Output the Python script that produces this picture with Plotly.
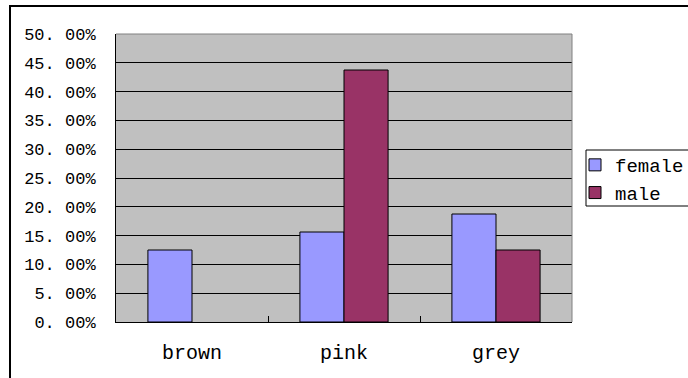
import plotly.graph_objects as go

# Hair colour share by gender (no male entries for brown)
categories = ["brown", "pink", "grey"]
female = [0.125, 0.15625, 0.1875]
male = [None, 0.4375, 0.125]
series_names = ["female", "male"]
series_colors = ["#9999ff", "#993366"]

tick_vals = [0.0, 0.05, 0.10, 0.15, 0.20, 0.25, 0.30, 0.35, 0.40, 0.45, 0.50]
tick_text = ["0. 00%", "5. 00%", "10. 00%", "15. 00%", "20. 00%", "25. 00%",
             "30. 00%", "35. 00%", "40. 00%", "45. 00%", "50. 00%"]

FONT = "Liberation Mono"

fig = go.Figure()
for name, vals, color in zip(series_names, [female, male], series_colors):
    fig.add_trace(go.Bar(
        x=categories, y=vals, name=name, legendgroup=name,
        marker=dict(color=color, line=dict(color="black", width=1)),
    ))

W, H = 688, 378
L, R, T, B = 116, 116, 34, 56
pw, ph = W - L - R, H - T - B

def px_x(p):
    return (p - L) / pw

def px_y(p):
    return (H - B - p) / ph

fig.update_layout(
    width=W, height=H,
    margin=dict(l=L, r=R, t=T, b=B, autoexpand=False),
    paper_bgcolor="white",
    plot_bgcolor="#c0c0c0",
    barmode="group",
    bargap=0.42,
    bargroupgap=0,
    font=dict(family=FONT, color="black"),
    legend=dict(
        x=px_x(575), y=px_y(146), xanchor="left", yanchor="top",
        borderwidth=0, bgcolor="rgba(0,0,0,0)",
        font=dict(family=FONT, size=19, color="black"),
        tracegroupgap=0, itemwidth=30,
    ),
    shapes=[
        # outer chart frame
        dict(type="rect", xref="paper", yref="paper",
             x0=px_x(10), x1=px_x(720), y0=px_y(6), y1=px_y(400),
             line=dict(color="black", width=2), fillcolor="rgba(0,0,0,0)",
             layer="below"),
        # legend frame
        dict(type="rect", xref="paper", yref="paper",
             x0=px_x(586), x1=px_x(700), y0=px_y(150), y1=px_y(206),
             line=dict(color="black", width=1), fillcolor="white",
             layer="below"),
        # top and right edges of the plot area
        dict(type="line", xref="paper", yref="paper", x0=0, x1=1, y0=1, y1=1,
             line=dict(color="#808080", width=1), layer="above"),
        dict(type="line", xref="paper", yref="paper", x0=1, x1=1, y0=0, y1=1,
             line=dict(color="#808080", width=1), layer="above"),
    ],
)

fig.update_xaxes(
    showline=True, linecolor="black", linewidth=1,
    ticks="inside", tickson="boundaries", ticklen=6, tickcolor="black",
    showgrid=False,
    tickfont=dict(family=FONT, size=20, color="black"),
    ticklabelstandoff=12,
)
fig.update_yaxes(
    range=[0, 0.5],
    tickvals=tick_vals, ticktext=tick_text,
    showline=True, linecolor="black", linewidth=1,
    ticks="inside", ticklen=6, tickcolor="black",
    showgrid=True, gridcolor="black", gridwidth=1,
    zeroline=False,
    tickfont=dict(family=FONT, size=17, color="black"),
    ticklabelstandoff=16,
)

fig.write_html("out.html")
